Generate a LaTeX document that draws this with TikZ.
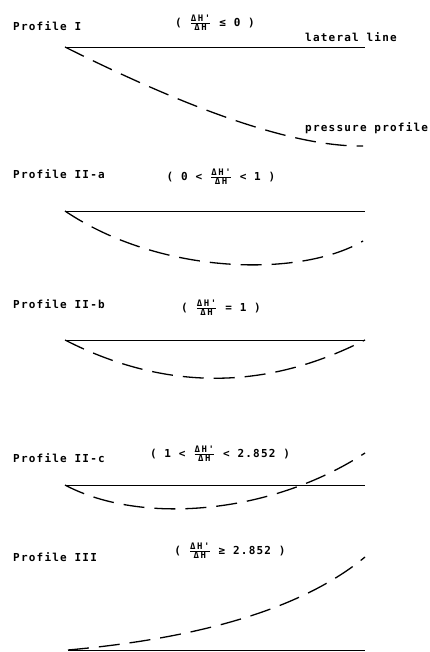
\documentclass[tikz,border=0pt]{standalone}
\usepackage{fontspec}
\usepackage{tikz}
\usetikzlibrary{positioning}
\newfontfamily\typefont[LetterSpace=11]{DejaVu Sans Mono}
\newfontfamily\fracfont[LetterSpace=18]{DejaVu Sans Mono}
\newcommand{\dratio}{\ensuremath{\frac{\mbox{\fontsize{9}{10}\fracfont\bfseries ΔH'}}{\mbox{\fontsize{9}{10}\fracfont\bfseries ΔH}}}}

\begin{document}
\begin{tikzpicture}[
    x=1pt, y=-1pt,
    caption/.style={font=\typefont\bfseries\fontsize{11}{13}\selectfont, inner sep=0pt, anchor=base west},
    cond/.style={font=\typefont\bfseries\fontsize{11}{13}\selectfont, inner sep=0pt},
    lateral/.style={line width=0.9pt},
    pressure/.style={line width=1.3pt, dash pattern=on 21pt off 10pt}
]
\useasboundingbox (0,0) rectangle (430,652);

% Profile I
\node[caption] (pI) at (13,31) {Profile I};
\node[cond] (cI) at (215,23) {( \dratio{} ≤ 0 )};
\coordinate (aI) at (65,47);
\coordinate (bI) at (365,47);
\coordinate (eI) at (363,146);
\draw[lateral] (aI) -- (bI);
\draw[pressure] (aI) .. controls (199,114) and (298,147) .. (eI);
\node[caption] (latlbl) at (305,42) {lateral line};
\node[caption] (preslbl) at (305,132) {pressure profile};

% Profile II-a
\node[caption] (pIIa) at (13,179) {Profile II-a};
\node[cond] (cIIa) at (221,177) {( 0 < \dratio{} < 1 )};
\coordinate (aIIa) at (65,211);
\coordinate (bIIa) at (365,211);
\coordinate (eIIa) at (363,241);
\draw[lateral] (aIIa) -- (bIIa);
\draw[pressure] (aIIa) .. controls (160,275) and (300,278) .. (eIIa);

% Profile II-b
\node[caption] (pIIb) at (13,308) {Profile II-b};
\node[cond] (cIIb) at (221,308) {( \dratio{} = 1 )};
\coordinate (aIIb) at (65,340);
\coordinate (bIIb) at (365,340);
\draw[lateral] (aIIb) -- (bIIb);
\draw[pressure] (aIIb) .. controls (165,391) and (265,391) .. (bIIb);

% Profile II-c
\node[caption] (pIIc) at (13,462) {Profile II-c};
\node[cond] (cIIc) at (220,454) {( 1 < \dratio{} < 2.852 )};
\coordinate (aIIc) at (65,485);
\coordinate (bIIc) at (365,485);
\coordinate (eIIc) at (365,453);
\draw[lateral] (aIIc) -- (bIIc);
\draw[pressure] (aIIc) .. controls (140,525) and (270,515) .. (eIIc);

% Profile III
\node[caption] (pIII) at (13,561) {Profile III};
\node[cond] (cIII) at (230,551) {( \dratio{} ≥ 2.852 )};
\coordinate (aIII) at (68,650);
\coordinate (bIII) at (365,650);
\coordinate (eIII) at (365,557);
\draw[lateral] (aIII) -- (bIII);
\draw[pressure] (aIII) .. controls (180,640) and (295,615) .. (eIII);

\end{tikzpicture}
\end{document}
